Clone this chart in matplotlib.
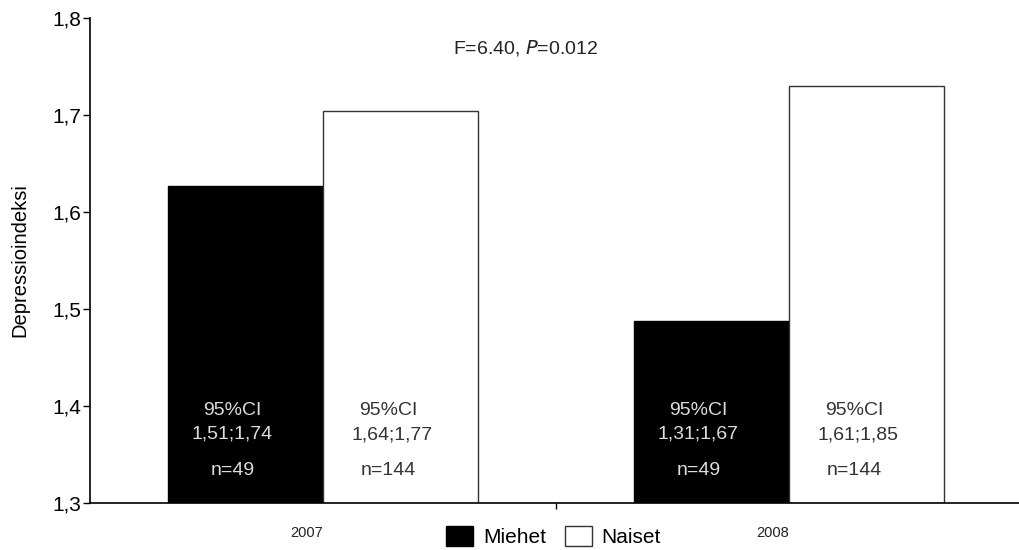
import matplotlib.pyplot as plt
from matplotlib.transforms import blended_transform_factory
import numpy as np

plt.rcParams['font.family'] = ['Liberation Sans', 'DejaVu Sans']

years = ['2007', '2008']
groups = ['Miehet', 'Naiset']
miehet = [1.627, 1.488]
naiset = [1.704, 1.730]
ci_miehet = ['1,51;1,74', '1,31;1,67']
ci_naiset = ['1,64;1,77', '1,61;1,85']
n_miehet = [49, 49]
n_naiset = [144, 144]
yticks = [1.3, 1.4, 1.5, 1.6, 1.7, 1.8]
ytick_labels = ['1,3', '1,4', '1,5', '1,6', '1,7', '1,8']

fig = plt.figure(figsize=(10.19, 5.5), dpi=100)
ax = fig.add_axes([0.0883, 0.0855, 0.9146, 0.8818])

x = np.arange(len(years)) + 0.5
w = 0.333
b1 = ax.bar(x - w / 2, np.array(miehet) - 1.3, w, bottom=1.3, color='black',
            edgecolor='black', linewidth=1, label=groups[0])
b2 = ax.bar(x + w / 2, np.array(naiset) - 1.3, w, bottom=1.3, color='white',
            edgecolor='#333333', linewidth=1, label=groups[1])

ax.set_xlim(0, 2)
ax.set_ylim(1.3, 1.8)
ax.set_yticks(yticks)
ax.set_yticklabels(ytick_labels, fontsize=15)
ax.set_xticks([1.0])
ax.set_xticklabels([''])
ax.tick_params(axis='x', length=4, width=1, direction='out')
ax.tick_params(axis='y', length=5, width=1, direction='out', pad=1)
for s in ['top', 'right']:
    ax.spines[s].set_visible(False)
ax.spines['left'].set_linewidth(1.2)
ax.spines['bottom'].set_linewidth(1.2)
ax.set_ylabel('Depressioindeksi', fontsize=14.5, labelpad=17)

# year labels below each group
trans = blended_transform_factory(ax.transData, ax.transAxes)
for xi, yr in zip(x, years):
    ax.text(xi - 0.035, -0.062, yr, transform=trans, ha='center', va='center',
            fontsize=10.5, color='#222222')

# CI and n labels inside the bars
light, dark = '#dcdcdc', '#333333'
for i, xi in enumerate(x):
    xm = xi - w / 2 - 0.028
    ax.text(xm, 1.395, '95%CI', ha='center', va='center', fontsize=14, color=light)
    ax.text(xm, 1.371, ci_miehet[i], ha='center', va='center', fontsize=14, color=light)
    ax.text(xm, 1.333, f'n={n_miehet[i]}', ha='center', va='center', fontsize=14, color=light)
    xn = xi + w / 2 - 0.026
    ax.text(xn, 1.395, '95%CI', ha='center', va='center', fontsize=14, color=dark)
    ax.text(xn + 0.008, 1.370, ci_naiset[i], ha='center', va='center', fontsize=14, color=dark)
    ax.text(xn, 1.333, f'n={n_naiset[i]}', ha='center', va='center', fontsize=14, color=dark)

ax.text(0.935, 1.769, 'F=6.40, $\\it{P}$=0.012', ha='center', va='center',
        fontsize=14, color='#222222')

fig.legend(handles=[b1, b2], loc='center', bbox_to_anchor=(0.543, 0.024),
           ncol=2, frameon=False, fontsize=15, handlelength=1.3, handleheight=1.05,
           columnspacing=0.9, handletextpad=0.45, borderpad=0)

fig.savefig('out.png', dpi=100)
